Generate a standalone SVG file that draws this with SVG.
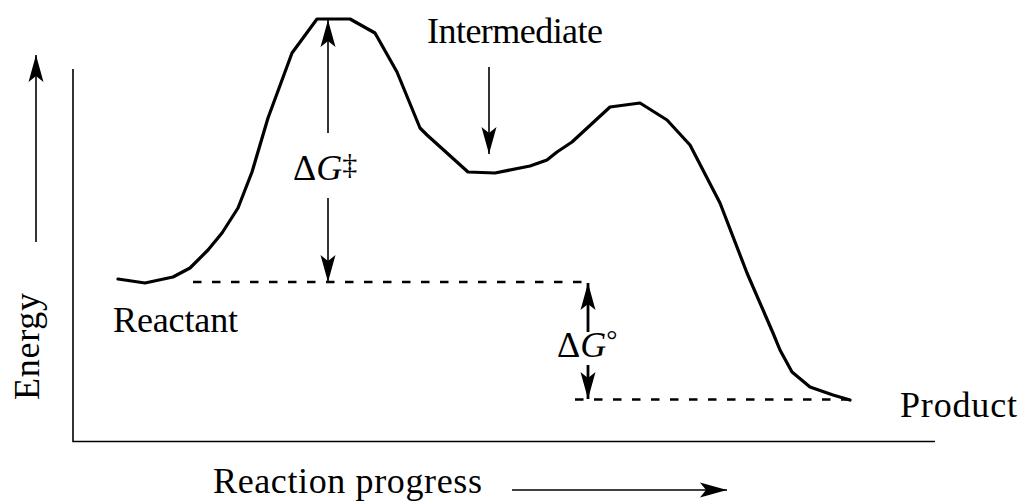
<svg xmlns="http://www.w3.org/2000/svg" width="1022" height="502" viewBox="0 0 1022 502">
<style>
.t{font-family:"Liberation Serif","Times New Roman",serif;font-size:36px;fill:#000}
.axis{stroke:#000;stroke-width:1.6;fill:none}
.curve{stroke:#000;stroke-width:3.2;fill:none;stroke-linejoin:round;stroke-linecap:round}
.dash{stroke:#000;stroke-width:2.6;stroke-dasharray:8.5 10.5;fill:none}
.thin{stroke:#000;stroke-width:1.6;fill:none}
.thick{stroke:#000;stroke-width:2.8;fill:none}
</style>
<defs>
<marker id="ah" markerUnits="userSpaceOnUse" markerWidth="30" markerHeight="18" viewBox="-29 -9 30 18" refX="0" refY="0" orient="auto">
<path d="M0,0 L-27,-7.5 L-21,0 L-27,7.5 Z" fill="#000"/>
</marker>
</defs>
<g id="axes">
<path class="axis" d="M73,69 V441.5 H935"/>
</g>
<g id="energy-curve">
<path class="curve" d="M118,279 L145,283 L173,277 L190,268 L208,250 L222,233 L238,208 L252,172 L268,118 L292,53 L317,19 L350,19 L375,33 L397,72 L420,128 L427,135 L468,172 L495,173 L530,166 L547,160 L557,152 L572,142 L610,107 L640,103 L667,120 L690,145 L720,203 L747,273 L773,333 L780,350 L792,372 L810,387 L833,395 L850,400"/>
</g>
<g id="connectors">
<path class="dash" d="M193,282 H590"/>
<path class="dash" d="M575,399.5 H850"/>
<line class="thin" x1="36" y1="242" x2="36" y2="55" marker-end="url(#ah)"/>
<line class="thin" x1="512" y1="490" x2="727" y2="490" marker-end="url(#ah)"/>
<line class="thin" x1="489" y1="67" x2="489" y2="154" marker-end="url(#ah)"/>
<line class="thin" x1="328" y1="133" x2="328" y2="20" marker-end="url(#ah)"/>
<line class="thin" x1="328" y1="198" x2="328" y2="282" marker-end="url(#ah)"/>
<line class="thick" x1="588" y1="332" x2="588" y2="283" marker-end="url(#ah)"/>
<line class="thick" x1="588" y1="365" x2="588" y2="399" marker-end="url(#ah)"/>
</g>
<g id="label-energy">
<text class="t" transform="translate(39,400) rotate(-90)" textLength="107">Energy</text>
</g>
<g id="label-intermediate">
<text class="t" x="427" y="43" textLength="176">Intermediate</text>
</g>
<g id="label-reactant">
<text class="t" x="113" y="332" textLength="125">Reactant</text>
</g>
<g id="label-product">
<text class="t" x="900" y="417" textLength="117">Product</text>
</g>
<g id="label-progress">
<text class="t" x="213" y="493" textLength="269">Reaction progress</text>
</g>
<g id="label-dg-activation">
<text class="t" x="293" y="180">Δ<tspan font-style="italic">G</tspan><tspan font-size="30" dy="-6">‡</tspan></text>
</g>
<g id="label-dg-standard">
<text class="t" x="557" y="357">Δ<tspan font-style="italic">G</tspan><tspan font-size="28" dy="-8">°</tspan></text>
</g>
</svg>
